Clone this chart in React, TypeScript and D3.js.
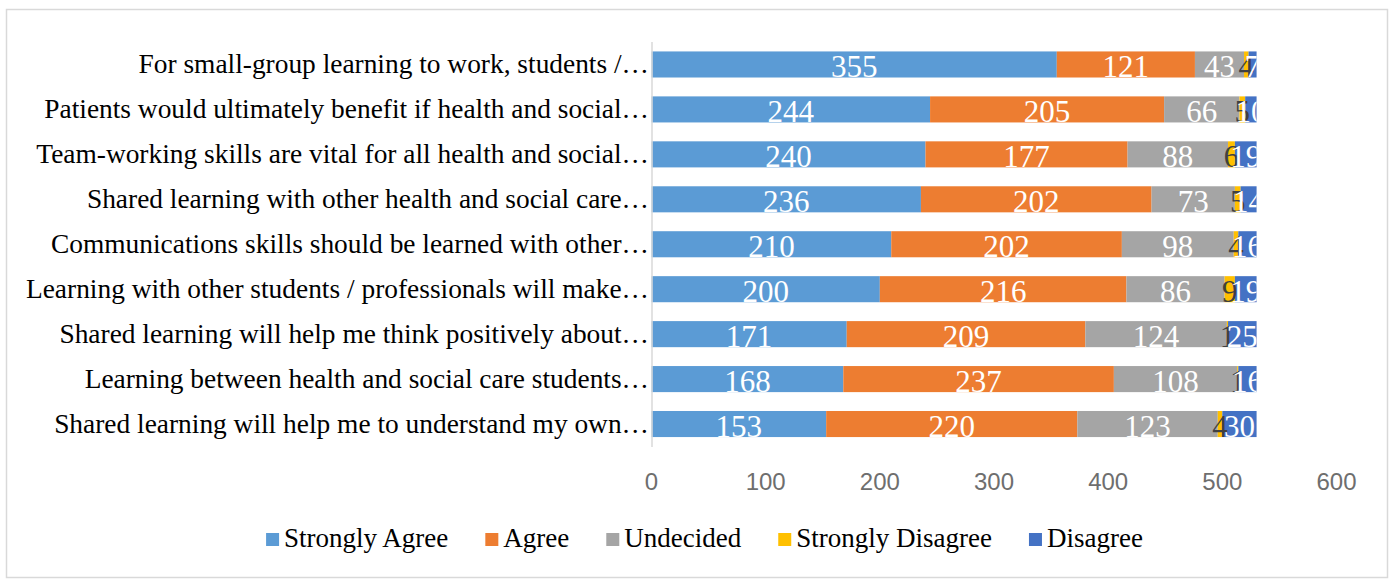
import React, { useEffect, useRef } from "react";
import * as d3 from "d3";

const categories = [
  "For small-group learning to work, students /…",
  "Patients would ultimately benefit if health and social…",
  "Team-working skills are vital for all health and social…",
  "Shared learning with other health and social care…",
  "Communications skills should be learned with other…",
  "Learning with other students / professionals will make…",
  "Shared learning will help me think positively about…",
  "Learning between health and social care students…",
  "Shared learning will help me to understand my own…",
];

const seriesNames = ["Strongly Agree", "Agree", "Undecided", "Strongly Disagree", "Disagree"];
const stronglyAgree = [355, 244, 240, 236, 210, 200, 171, 168, 153];
const agree = [121, 205, 177, 202, 202, 216, 209, 237, 220];
const undecided = [43, 66, 88, 73, 98, 86, 124, 108, 123];
const stronglyDisagree = [4, 5, 6, 5, 4, 9, 1, 1, 4];
const disagree = [7, 10, 19, 14, 16, 19, 25, 16, 30];
const xTicks = [0, 100, 200, 300, 400, 500, 600];

const colors = ["#5B9BD5", "#ED7D31", "#A5A5A5", "#FFC000", "#4472C4"];
const labelColors = ["#ffffff", "#ffffff", "#ffffff", "#404040", "#ffffff"];

export default function App() {
  const ref = useRef<SVGSVGElement | null>(null);

  useEffect(() => {
    const svg = d3.select(ref.current);
    svg.selectAll("*").remove();

    const values = [stronglyAgree, agree, undecided, stronglyDisagree, disagree];
    const rows = categories.map((c, i) => {
      const r: any = { cat: c };
      seriesNames.forEach((s, k) => (r[s] = values[k][i]));
      return r;
    });
    const stacked = d3.stack().keys(seriesNames)(rows);

    const x = d3.scaleLinear().domain([0, 600]).range([651.5, 1336.5]);
    const y = d3
      .scaleBand<string>()
      .domain(categories)
      .range([42, 446.5])
      .paddingInner(0.42)
      .paddingOuter(0.21);

    // outer border
    svg
      .append("rect")
      .attr("x", 6.5)
      .attr("y", 9.5)
      .attr("width", 1381)
      .attr("height", 568)
      .attr("fill", "#fff")
      .attr("stroke", "#d9d9d9")
      .attr("stroke-width", 1.5);

    // bars
    stacked.forEach((layer, k) => {
      svg
        .append("g")
        .selectAll("rect")
        .data(layer)
        .join("rect")
        .attr("x", (d: any) => x(d[0]))
        .attr("y", (d: any) => y(d.data.cat)!)
        .attr("width", (d: any) => x(d[1]) - x(d[0]))
        .attr("height", y.bandwidth())
        .attr("fill", colors[k]);
    });

    // axis line
    svg
      .append("line")
      .attr("x1", x(0) + 0.5)
      .attr("x2", x(0) + 0.5)
      .attr("y1", 42)
      .attr("y2", 447)
      .attr("stroke", "#d9d9d9")
      .attr("stroke-width", 1.5);

    // data labels clipped at bar end
    const maxTotal = d3.max(rows, (r: any) => d3.sum(seriesNames, (s) => r[s])) as number;
    const defs = svg.append("defs");
    defs
      .append("clipPath")
      .attr("id", "lblclip")
      .append("rect")
      .attr("x", 0)
      .attr("y", 0)
      .attr("width", x(maxTotal))
      .attr("height", 580);
    const lg = svg.append("g").attr("clip-path", "url(#lblclip)");
    stacked.forEach((layer, k) => {
      lg.append("g")
        .selectAll("text")
        .data(layer)
        .join("text")
        .attr("x", (d: any) => (x(d[0]) + x(d[1])) / 2)
        .attr("y", (d: any) => y(d.data.cat)! + y.bandwidth() / 2 + 12.5)
        .attr("text-anchor", "middle")
        .attr("font-family", "'Liberation Serif', 'Times New Roman', serif")
        .attr("font-size", 31)
        .attr("fill", labelColors[k])
        .text((d: any) => String(d[1] - d[0]));
    });

    // category labels
    svg
      .append("g")
      .selectAll("text")
      .data(categories)
      .join("text")
      .attr("x", 649)
      .attr("y", (c) => y(c)! + y.bandwidth() / 2 + 9)
      .attr("text-anchor", "end")
      .attr("font-family", "'Liberation Serif', 'Times New Roman', serif")
      .attr("font-size", 27.4)
      .attr("fill", "#000")
      .text((c) => c);

    // x tick labels
    svg
      .append("g")
      .selectAll("text")
      .data(xTicks)
      .join("text")
      .attr("x", (t) => x(t))
      .attr("y", 490)
      .attr("text-anchor", "middle")
      .attr("font-family", "'Liberation Sans', Arial, sans-serif")
      .attr("font-size", 24)
      .attr("fill", "#6e6e6e")
      .text((t) => String(t));

    // legend
    const leg = svg.append("g");
    const items = seriesNames.map((name, k) => {
      const g = leg.append("g");
      g.append("rect").attr("width", 13).attr("height", 13).attr("y", 533).attr("fill", colors[k]);
      const t = g
        .append("text")
        .attr("x", 18)
        .attr("y", 547)
        .attr("font-family", "'Liberation Serif', 'Times New Roman', serif")
        .attr("font-size", 27)
        .attr("fill", "#000")
        .text(name);
      const w = (t.node() as SVGTextElement).getComputedTextLength();
      return { g, w: 18 + w };
    });
    const gap = 37;
    const total = d3.sum(items, (d) => d.w) + gap * (items.length - 1);
    let cx = 704.5 - total / 2;
    items.forEach((it) => {
      it.g.attr("transform", `translate(${cx},0)`);
      cx += it.w + gap;
    });
  }, []);

  return (
    <svg
      ref={ref}
      width={1395}
      height={580}
      style={{ position: "absolute", left: 0, top: 0, display: "block" }}
    />
  );
}
